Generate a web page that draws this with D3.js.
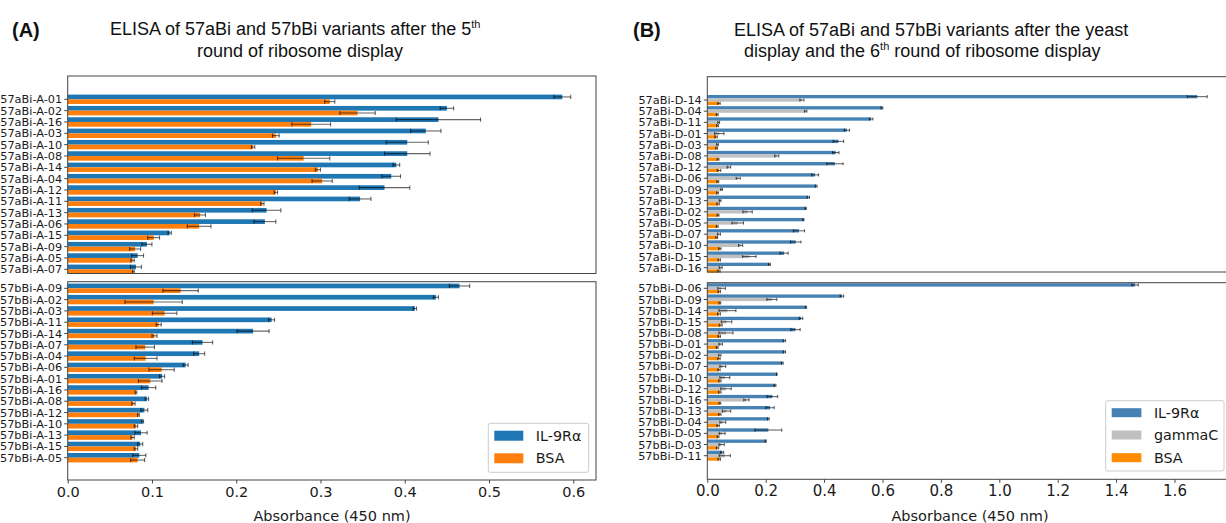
<!DOCTYPE html>
<html lang="en">
<head>
<meta charset="utf-8">
<script src="https://d3js.org/d3.v7.min.js"></script>
<style>
  body { margin: 0; background: #fff; }
  svg { display: block; }
</style>
</head>
<body>
<script>

// ---- data: panel A (5th round of ribosome display) ----
var catsA1 = ["57aBi-A-01","57aBi-A-02","57aBi-A-16","57aBi-A-03","57aBi-A-10","57aBi-A-08","57aBi-A-14","57aBi-A-04",
              "57aBi-A-12","57aBi-A-11","57aBi-A-13","57aBi-A-06","57aBi-A-15","57aBi-A-09","57aBi-A-05","57aBi-A-07"];
var il9A1    = [0.587,0.450,0.440,0.425,0.403,0.403,0.390,0.384,0.376,0.347,0.236,0.234,0.121,0.094,0.083,0.081];
var il9A1err = [0.010,0.008,0.050,0.018,0.025,0.027,0.004,0.011,0.030,0.013,0.017,0.013,0.002,0.006,0.007,0.0065];
var bsaA1    = [0.311,0.344,0.289,0.247,0.220,0.280,0.297,0.302,0.247,0.231,0.157,0.156,0.102,0.080,0.077,0.078];
var bsaA1err = [0.006,0.021,0.023,0.004,0.002,0.031,0.003,0.012,0.002,0.002,0.0065,0.014,0.007,0.0065,0.002,0.001];

var catsA2 = ["57bBi-A-09","57bBi-A-02","57bBi-A-03","57bBi-A-11","57bBi-A-14","57bBi-A-07","57bBi-A-04","57bBi-A-06",
              "57bBi-A-01","57bBi-A-16","57bBi-A-08","57bBi-A-12","57bBi-A-10","57bBi-A-13","57bBi-A-15","57bBi-A-05"];
var il9A2    = [0.465,0.437,0.412,0.242,0.220,0.160,0.156,0.140,0.112,0.096,0.094,0.091,0.089,0.087,0.086,0.085];
var il9A2err = [0.012,0.003,0.002,0.0035,0.019,0.012,0.0065,0.003,0.003,0.0085,0.002,0.004,0.001,0.0073,0.003,0.0077];
var bsaA2    = [0.134,0.102,0.115,0.108,0.103,0.092,0.0925,0.1115,0.098,0.081,0.078,0.084,0.081,0.077,0.081,0.083];
var bsaA2err = [0.021,0.034,0.0145,0.003,0.003,0.011,0.0135,0.015,0.014,0.001,0.002,0.001,0.002,0.002,0.002,0.0083];

// ---- data: panel B (yeast display + 6th round) ----
var catsB1 = ["57aBi-D-14","57aBi-D-04","57aBi-D-11","57aBi-D-01","57aBi-D-03","57aBi-D-08","57aBi-D-12","57aBi-D-06",
              "57aBi-D-09","57aBi-D-13","57aBi-D-02","57aBi-D-05","57aBi-D-07","57aBi-D-10","57aBi-D-15","57aBi-D-16"];
var il9B1    = [1.678,0.598,0.561,0.478,0.449,0.440,0.437,0.369,0.373,0.346,0.337,0.329,0.314,0.303,0.263,0.213];
var il9B1err = [0.034,0.003,0.006,0.009,0.018,0.011,0.028,0.012,0.003,0.004,0.002,0.002,0.019,0.018,0.014,0.003];
var gamB1    = [0.324,0.337,0.039,0.041,0.035,0.238,0.074,0.106,0.049,0.044,0.138,0.104,0.040,0.114,0.144,0.046];
var gamB1err = [0.007,0.004,0.003,0.016,0.003,0.007,0.006,0.007,0.003,0.003,0.016,0.020,0.005,0.007,0.023,0.005];
var bsaB1    = [0.040,0.034,0.035,0.030,0.032,0.037,0.040,0.036,0.035,0.037,0.037,0.034,0.032,0.043,0.041,0.040];
var bsaB1err = [0.004,0.003,0.003,0.004,0.003,0.003,0.006,0.003,0.003,0.004,0.003,0.003,0.003,0.004,0.004,0.004];

var catsB2 = ["57bBi-D-06","57bBi-D-09","57bBi-D-14","57bBi-D-15","57bBi-D-08","57bBi-D-01","57bBi-D-02","57bBi-D-07",
              "57bBi-D-10","57bBi-D-12","57bBi-D-16","57bBi-D-13","57bBi-D-04","57bBi-D-05","57bBi-D-03","57bBi-D-11"];
var il9B2    = [1.465,0.461,0.338,0.321,0.302,0.264,0.264,0.257,0.238,0.232,0.223,0.215,0.209,0.209,0.200,0.051];
var il9B2err = [0.011,0.006,0.002,0.006,0.016,0.004,0.004,0.003,0.001,0.003,0.018,0.014,0.003,0.046,0.002,0.005];
var gamB2    = [0.049,0.221,0.069,0.066,0.064,0.046,0.043,0.053,0.060,0.064,0.134,0.066,0.053,0.051,0.049,0.060];
var gamB2err = [0.013,0.017,0.029,0.018,0.024,0.006,0.004,0.010,0.017,0.018,0.009,0.014,0.010,0.010,0.009,0.019];
var bsaB2    = [0.041,0.043,0.040,0.046,0.041,0.034,0.040,0.040,0.043,0.043,0.043,0.043,0.037,0.037,0.035,0.041];
var bsaB2err = [0.004,0.003,0.005,0.005,0.004,0.003,0.004,0.004,0.004,0.004,0.003,0.004,0.004,0.003,0.004,0.004];

var ticksA = [0, 0.1, 0.2, 0.3, 0.4, 0.5, 0.6];
var ticksB = [0, 0.2, 0.4, 0.6, 0.8, 1.0, 1.2, 1.4, 1.6];
var legendA = ["IL-9R\u03b1", "BSA"];
var legendB = ["IL-9R\u03b1", "gammaC", "BSA"];
var colorsA = ["#1f77b4", "#ff7f0e"];
var colorsB = ["#4682b4", "#c0c0c0", "#ff8c00"];

var W = 1226, H = 523;
var tickFont = "'DejaVu Sans', sans-serif";
var titleFont = "'Liberation Sans', Arial, sans-serif";

var svg = d3.select("body").append("svg").attr("width", W).attr("height", H);

// x scales
var xA = d3.scaleLinear().domain([0, 0.627]).range([67.7, 596]);
var xB = d3.scaleLinear().domain([0, 1.8]).range([707.3, 1232.9]);

// draw one sub panel: frame, bars, error bars, y labels
function subPanel(x, frameTop, frameBot, yFirst, yLast, cats, series, colors, barH, capH, labelSize) {
  var y = d3.scalePoint().domain(cats).range([yFirst, yLast]);
  var g = svg.append("g");
  var n = series.length;

  series.forEach(function(s, si) {
    var off = -n * barH / 2 + si * barH;
    var rows = cats.map(function(c, i) { return {c: c, v: s.v[i], e: s.e[i]}; });
    g.append("g").selectAll("rect").data(rows).enter().append("rect")
      .attr("x", x(0))
      .attr("y", function(d) { return y(d.c) + off; })
      .attr("width", function(d) { return x(d.v) - x(0); })
      .attr("height", barH)
      .attr("fill", colors[si]);
  });

  series.forEach(function(s, si) {
    var off = -n * barH / 2 + si * barH + barH / 2;
    var rows = cats.map(function(c, i) { return {c: c, v: s.v[i], e: s.e[i]}; });
    var eg = g.append("g").attr("stroke", "#000").attr("stroke-opacity", 0.6).attr("stroke-width", 1.1);
    eg.selectAll("line.eb").data(rows).enter().append("line")
      .attr("x1", function(d) { return x(d.v - d.e); })
      .attr("x2", function(d) { return x(d.v + d.e); })
      .attr("y1", function(d) { return y(d.c) + off; })
      .attr("y2", function(d) { return y(d.c) + off; });
    [-1, 1].forEach(function(sg) {
      eg.selectAll("line.cap" + sg).data(rows).enter().append("line")
        .attr("x1", function(d) { return x(d.v + sg * d.e); })
        .attr("x2", function(d) { return x(d.v + sg * d.e); })
        .attr("y1", function(d) { return y(d.c) + off - capH / 2; })
        .attr("y2", function(d) { return y(d.c) + off + capH / 2; });
    });
  });

  // frame
  g.append("rect")
    .attr("x", x.range()[0]).attr("y", frameTop)
    .attr("width", x.range()[1] - x.range()[0]).attr("height", frameBot - frameTop)
    .attr("fill", "none").attr("stroke", "#444").attr("stroke-width", 1);

  // y ticks + labels
  var yg = g.append("g");
  yg.selectAll("line").data(cats).enter().append("line")
    .attr("x1", x(0) - 3.5).attr("x2", x(0))
    .attr("y1", function(d) { return y(d); }).attr("y2", function(d) { return y(d); })
    .attr("stroke", "#444");
  yg.selectAll("text").data(cats).enter().append("text")
    .attr("x", x(0) - 5.5).attr("y", function(d) { return y(d); })
    .attr("dy", "0.36em")
    .attr("text-anchor", "end")
    .style("font-family", tickFont).style("font-size", labelSize + "px").style("fill", "#1a1a1a")
    .text(function(d) { return d; });
}

function xAxis(x, yPos, ticks, fmt, size) {
  var g = svg.append("g").attr("transform", "translate(0," + yPos + ")");
  var ax = d3.axisBottom(x).tickValues(ticks).tickFormat(fmt).tickSize(3.5).tickPadding(3);
  g.call(ax);
  g.select(".domain").remove();
  g.selectAll(".tick line").attr("stroke", "#444");
  g.selectAll(".tick text").style("font-family", tickFont).style("font-size", size + "px").style("fill", "#1a1a1a");
}

function legend(x0, y0, w, h, labels, colors, rowY, patchW, patchH) {
  var g = svg.append("g");
  g.append("rect").attr("x", x0).attr("y", y0).attr("width", w).attr("height", h)
    .attr("rx", 2).attr("fill", "#fff").attr("fill-opacity", 0.9).attr("stroke", "#ccc");
  labels.forEach(function(l, i) {
    var cy = y0 + rowY[i];
    g.append("rect").attr("x", x0 + 6).attr("y", cy - patchH / 2).attr("width", patchW).attr("height", patchH)
      .attr("fill", colors[i]);
    g.append("text").attr("x", x0 + 6 + patchW + 12.5).attr("y", cy).attr("dy", "0.36em")
      .style("font-family", tickFont).style("font-size", "14.3px").style("fill", "#1a1a1a")
      .text(l);
  });
}

// ---- panel A ----
subPanel(xA, 76, 273.5, 99.3, 269.3, catsA1,
  [{v: il9A1, e: il9A1err}, {v: bsaA1, e: bsaA1err}], colorsA, 4.7, 4.2, 11.3);
subPanel(xA, 281.7, 480, 288.3, 457.7, catsA2,
  [{v: il9A2, e: il9A2err}, {v: bsaA2, e: bsaA2err}], colorsA, 4.7, 4.2, 11.3);
xAxis(xA, 480, ticksA, d3.format(".1f"), 14.5);
legend(488.3, 423.3, 100.4, 49, legendA, colorsA, [12.4, 35], 29, 10);

// ---- panel B ----
subPanel(xB, 76.7, 272, 100, 267.7, catsB1,
  [{v: il9B1, e: il9B1err}, {v: gamB1, e: gamB1err}, {v: bsaB1, e: bsaB1err}], colorsB, 3.35, 3.2, 11.3);
subPanel(xB, 282.7, 479.3, 288.3, 455.7, catsB2,
  [{v: il9B2, e: il9B2err}, {v: gamB2, e: gamB2err}, {v: bsaB2, e: bsaB2err}], colorsB, 3.35, 3.2, 11.3);
xAxis(xB, 479.3, ticksB, d3.format(".1f"), 15);
legend(1105.7, 400.7, 118.3, 70.3, legendB, colorsB, [12, 34.3, 57], 29.7, 9);

// axis titles
svg.append("text").attr("x", 332).attr("y", 520.5).attr("text-anchor", "middle")
  .style("font-family", tickFont).style("font-size", "14.5px").style("fill", "#1a1a1a")
  .text("Absorbance (450 nm)");
svg.append("text").attr("x", 970).attr("y", 520.5).attr("text-anchor", "middle")
  .style("font-family", tickFont).style("font-size", "14.5px").style("fill", "#1a1a1a")
  .text("Absorbance (450 nm)");

// panel letters and titles
function title(txt, x, y, bold, size) {
  return svg.append("text").attr("x", x).attr("y", y)
    .style("font-family", titleFont).style("font-size", size + "px")
    .style("font-weight", bold ? "bold" : "normal").style("fill", "#111")
    .text(txt);
}
title("(A)", 12, 37, true, 20);
title("(B)", 633, 37, true, 20);

var tA = title("ELISA of 57aBi and 57bBi variants after the 5", 110, 35, false, 18);
tA.append("tspan").attr("dy", -7).style("font-size", "11px").text("th");
title("round of ribosome display", 197, 56.5, false, 18);

title("ELISA of 57aBi and 57bBi variants after the yeast", 734, 35.5, false, 18);
var tB = title("display and the 6", 744, 56.5, false, 18);
tB.append("tspan").attr("dy", -7).style("font-size", "11px").text("th");
tB.append("tspan").attr("dy", 7).text(" round of ribosome display");

</script>
</body>
</html>
